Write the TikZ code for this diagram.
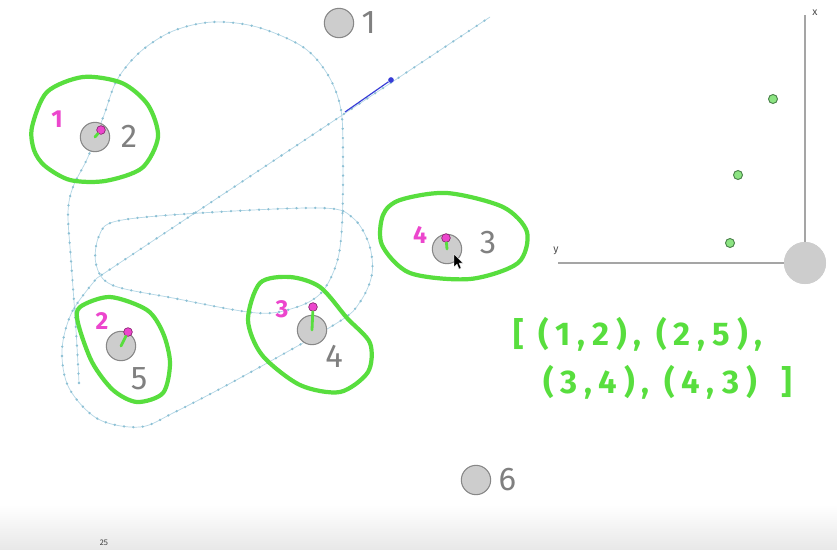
\documentclass[tikz,border=0pt]{standalone}
\usepackage{fontspec}
\setmainfont{Fira Sans}
\newfontfamily\handfont[LetterSpace=21]{Fira Sans}
\usetikzlibrary{positioning}

\definecolor{blobgreen}{RGB}{88,222,62}
\definecolor{pinkdot}{RGB}{236,70,205}
\definecolor{headedge}{RGB}{140,40,115}
\definecolor{robotgray}{RGB}{205,205,205}
\definecolor{edgegray}{RGB}{135,135,135}
\definecolor{labelgray}{RGB}{128,128,128}
\definecolor{trackblue}{RGB}{180,215,230}
\definecolor{trackdot}{RGB}{140,192,212}
\definecolor{ptrblue}{RGB}{55,60,215}
\definecolor{axisgray}{RGB}{165,165,165}
\definecolor{dotgreen}{RGB}{140,228,130}
\definecolor{samplegreen}{RGB}{75,130,75}

\begin{document}
\begin{tikzpicture}[x=0.03cm, y=-0.03cm,
    robot/.style={circle, draw=edgegray, fill=robotgray, line width=0.9pt, minimum size=0.88cm, inner sep=0pt},
    head/.style={circle, draw=headedge, fill=pinkdot, line width=0.6pt, minimum size=0.26cm, inner sep=0pt},
    heading/.style={draw=blobgreen, line width=2.4pt, line cap=round},
    blob/.style={draw=blobgreen, line width=3.6pt},
    tag/.style={text=pinkdot, font=\bfseries\fontsize{21}{21}\selectfont},
    idx/.style={text=labelgray, font=\fontsize{28}{28}\selectfont},
    track/.style={draw=trackblue, line width=0.6pt,
        postaction={draw=trackdot, line width=2.2pt, line cap=round, dash pattern=on 0pt off 8pt}},
    axis/.style={draw=axisgray, line width=1.6pt},
    sample/.style={circle, draw=samplegreen, fill=dotgreen, line width=0.8pt, minimum size=0.27cm, inner sep=0pt},
    pairs/.style={text=blobgreen, anchor=west, inner sep=0pt, font=\handfont\bfseries\fontsize{28}{32}\selectfont}]
    \useasboundingbox (0,0) rectangle (837,549);
    \fill[white] (0,0) rectangle (837,549);
    \shade[top color=white, bottom color=black!9] (0,505) rectangle (837,549);
    \node[text=black!75, font=\fontsize{7}{7}\selectfont] (frame) at (104,543) {25};

    % driven path
    \draw[track] plot[smooth, tension=0.55] coordinates {
        (79,383) (76,330) (71,260) (68,213) (73,187) (88,157) (104,115) (117,80)
        (140,52) (173,31) (213,22) (257,27) (303,47) (328,75) (341,110) (343,160)
        (342,225) (337,262) (322,292) (297,307) (257,313) (173,298) (112,285)
        (96,264) (99,236) (117,221) (200,213) (322,208) (353,218) (369,244)
        (372,274) (360,302) (337,323) (240,378) (175,412) (140,427) (98,419)
        (69,388) (62,350) (72,312) (97,278)} -- (490,17);
    \coordinate (tail) at (345,112);
    \node[circle, fill=ptrblue, minimum size=0.17cm, inner sep=0pt] (tip) at (391,80) {};
    \draw[ptrblue, line width=1pt] (tail) -- (tip);

    % groups
    \draw[blob] plot[smooth cycle] coordinates {(32,127) (47,92) (83,77) (122,83) (148,105)
        (158,137) (142,168) (105,181) (70,180) (45,166) (34,150)};
    \draw[blob] plot[smooth cycle] coordinates {(80,307) (110,297) (147,310) (163,333) (170,363)
        (163,393) (137,402) (113,390) (92,362) (78,323)};
    \draw[blob] plot[smooth cycle] coordinates {(260,283) (290,277) (320,287) (347,318) (370,343)
        (368,372) (340,392) (300,385) (262,355) (248,320)};
    \draw[blob] plot[smooth cycle] coordinates {(383,215) (400,200) (447,193) (503,207) (527,232)
        (518,263) (470,279) (410,273) (382,245)};

    % robots
    \node[robot] (r1) at (339,23) {};
    \node[idx, right=0.1cm of r1] (n1) {1};
    \node[robot] (r6) at (476,480) {};
    \node[idx, right=0.1cm of r6] (n6) {6};

    \node[robot] (r2) at (95,137) {};
    \node[head] (h2) at (101,130) {};
    \draw[heading] (r2.center) -- (h2);
    \node[idx] (n2) at (129,136) {2};
    \node[tag] (g1) at (57,119) {1};

    \node[robot] (r5) at (121,346) {};
    \node[head] (h5) at (128,332) {};
    \draw[heading] (r5.center) -- (h5);
    \node[idx] (n5) at (139,379) {5};
    \node[tag] (g2) at (102,321) {2};

    \node[robot] (r4) at (312,330) {};
    \node[head] (h4) at (313,307) {};
    \draw[heading] (r4.center) -- (h4);
    \node[idx] (n4) at (334,356) {4};
    \node[tag] (g3) at (282,309) {3};

    \node[robot] (r3) at (447,249) {};
    \node[head] (h3) at (446,238) {};
    \draw[heading] (r3.center) -- (h3);
    \node[idx] (n3) at (488,243) {3};
    \node[tag] (g4) at (420,235) {4};

    % pointer
    \fill[black, draw=white, line width=0.3pt] (454,254) -- (454,267) -- (457,264) -- (459,269)
        -- (461,268) -- (459,263) -- (463,263) -- cycle;

    % plot
    \coordinate (xend) at (805,15);
    \coordinate (yend) at (558,263);
    \node[circle, fill=robotgray, minimum size=1.26cm, inner sep=0pt] (origin) at (805,263) {};
    \draw[axis] (origin.center) -- (xend);
    \draw[axis] (origin.center) -- (yend);
    \node[circle, fill=robotgray, minimum size=1.26cm, inner sep=0pt] at (origin) {};
    \node[font=\fontsize{9}{9}\selectfont, text=black!70] (xlab) at (815,13) {x};
    \node[font=\fontsize{9}{9}\selectfont, text=black!70] (ylab) at (556,251) {y};
    \foreach \i/\px/\py in {1/773/99, 2/738/175, 3/730/243}
        \node[sample] (s\i) at (\px,\py) {};

    % matching
    \node[pairs] (row1) at (513,334) {[ (1,2), (2,5),};
    \node[pairs] (row2) at (543,382) {(3,4), (4,3)\hspace{0.3em} ]};
\end{tikzpicture}
\end{document}
